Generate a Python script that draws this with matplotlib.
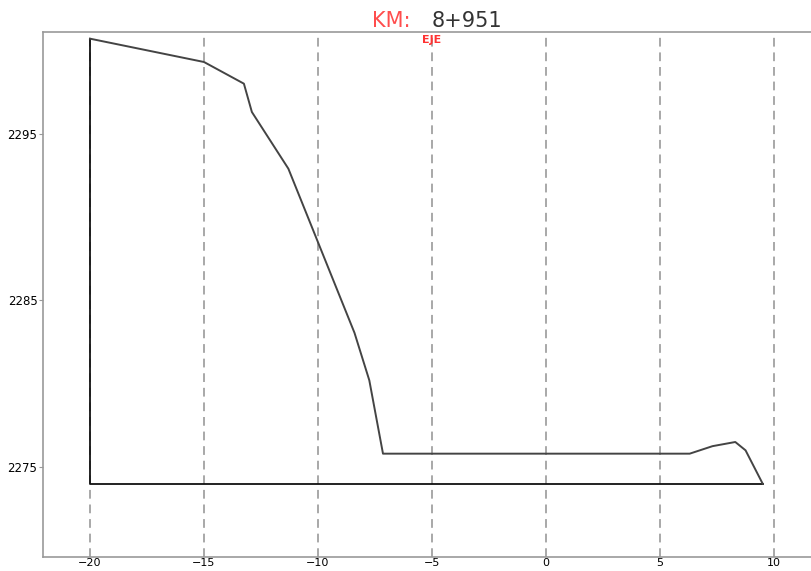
import matplotlib
matplotlib.use("Agg")
import matplotlib.pyplot as plt

# Cross-section profile: offset from axis (m) vs elevation (m)
offsets = [-20, -15, -13.25, -12.9, -11.3, -8.4, -7.75, -7.15, 6.3, 7.3, 8.3, 8.75, 9.5]
elevations = [2300.7, 2299.3, 2298.0, 2296.3, 2292.9, 2283.05, 2280.2, 2275.8,
              2275.8, 2276.25, 2276.5, 2276.0, 2274.0]
datum = 2274.0
x_ticks = [-20, -15, -10, -5, 0, 5, 10]
y_ticks = [2275, 2285, 2295]
station = "8+951"
axis_offset = -5

fig = plt.figure(figsize=(8.11, 5.71), dpi=100)
ax = fig.add_axes([43 / 811, 14 / 571, 768 / 811, 525 / 571])
ax.set_xlim(-22.06, 11.62)
ax.set_ylim(2269.6, 2301.1)

for xt in x_ticks:
    ax.axvline(xt, color="#a8a8a8", linewidth=1.4, linestyle=(0, (4.5, 3)), zorder=1)

# closing lines: datum at the bottom and the left boundary
ax.plot([offsets[-1], offsets[0], offsets[0]], [datum, datum, elevations[0]],
        color="#111111", linewidth=1.3, zorder=2)
ax.plot(offsets, elevations, color="#444444", linewidth=1.4, zorder=3)

ax.set_xticks(x_ticks)
ax.set_yticks(y_ticks)
ax.set_xticklabels([f"{v}".replace("-", "\u2212") for v in x_ticks])
ax.tick_params(axis="y", labelsize=8.5, length=3, color="#999999", pad=1)
ax.tick_params(axis="x", labelsize=8, length=0, pad=0.5)
for side in ("left", "bottom", "top"):
    ax.spines[side].set_color("#999999")
    ax.spines[side].set_linewidth(1.2)
ax.spines["right"].set_visible(False)

fig.text(372 / 811, 1 - 21 / 571, "KM:", color="#ff4d4d", fontsize=15,
         family="DejaVu Sans", ha="left", va="center")
fig.text(432 / 811, 1 - 21 / 571, station, color="#333333", fontsize=15,
         family="DejaVu Sans", ha="left", va="center")
ax.text(axis_offset, 2300.6, "EJE", color="#ff3333", fontsize=8,
        fontweight="bold", ha="center", va="center")

fig.savefig("out.png", dpi=100, facecolor="white")
